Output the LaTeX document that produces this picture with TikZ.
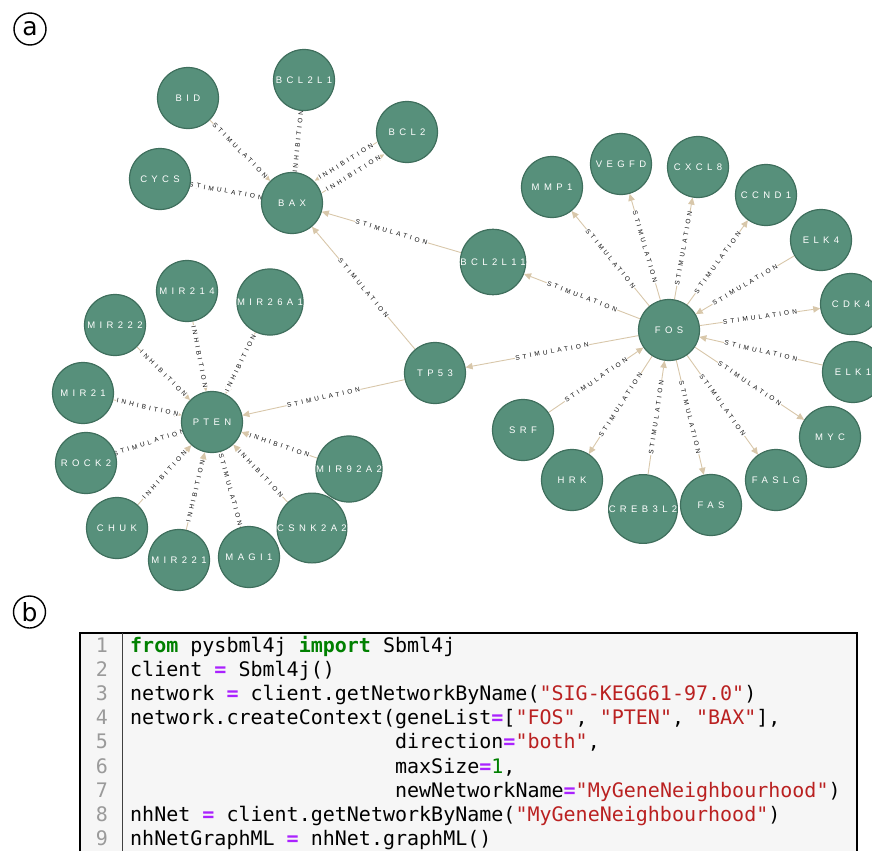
\documentclass[tikz,border=0pt]{standalone}
\usepackage{fontspec}
\setmainfont{Liberation Sans}
\setmonofont{DejaVu Sans Mono}
\newfontfamily\genefont[LetterSpace=46]{Liberation Sans}
\newfontfamily\relfont[LetterSpace=48]{Liberation Sans}
\newfontfamily\panelfont{DejaVu Sans}
\usetikzlibrary{arrows.meta,backgrounds}

\definecolor{genefill}{HTML}{57907B}
\definecolor{geneline}{HTML}{3F6F5D}
\definecolor{relcol}{HTML}{D8C7AA}
\definecolor{labcol}{HTML}{111111}
\definecolor{codebg}{HTML}{F6F6F6}
\definecolor{lnum}{HTML}{9A9A9A}
\definecolor{kwgreen}{HTML}{008000}
\definecolor{oppurple}{HTML}{AA22FF}
\definecolor{strred}{HTML}{BA2121}

\newcommand\ckw[1]{{\bfseries\color{kwgreen}#1}}
\newcommand\cop{{\bfseries\color{oppurple}=}}
\newcommand\cstr[1]{{\color{strred}#1}}
\newcommand\cnum[1]{{\color{kwgreen}#1}}

\tikzset{
  gene/.style={circle, minimum size=61pt, inner sep=0pt, fill=genefill,
    draw=geneline, line width=1.2pt, text=white,
    font=\genefont\fontsize{9.5}{10}\selectfont},
  rel/.style={draw=relcol, line width=0.9pt,
    -{Triangle[length=7pt,width=6.5pt]}},
  lab/.style={midway, sloped, fill=white, inner sep=0.6pt, text=labcol,
    font=\relfont\fontsize{6.5}{7}\selectfont},
  panel/.style={circle, draw, line width=1.4pt, minimum size=32pt,
    inner sep=0pt, font=\panelfont\fontsize{25}{25}\selectfont},
  codeline/.style={anchor=base west, inner sep=0pt,
    font=\ttfamily\fontsize{20}{24}\selectfont},
  linenum/.style={anchor=base east, inner sep=0pt, text=lnum,
    font=\ttfamily\fontsize{20}{24}\selectfont},
}

\begin{document}
\begin{tikzpicture}[x=1pt, y=-1pt]
\useasboundingbox (0,0) rectangle (872,851);

% panel tags
\node[panel] (taga) at (30,29) {a};
\node[panel] (tagb) at (29.5,612) {b};

% ---------- BAX neighbourhood ----------
\node[gene] (bid)    at (188,98)  {BID};
\node[gene] (bcl2l1) at (304,80)  {BCL2L1};
\node[gene] (bcl2)   at (407,132) {BCL2};
\node[gene] (cycs)   at (160,179) {CYCS};
\node[gene] (bax)    at (292,203) {BAX};
\node[gene] (bcl2l11) at (493,262) {BCL2L11};
\node[gene] (tp53)   at (435,373) {TP53};

% ---------- FOS neighbourhood ----------
\node[gene] (fos)    at (669,330) {FOS};
\node[gene] (mmp1)   at (552,187) {MMP1};
\node[gene] (vegfd)  at (621,164) {VEGFD};
\node[gene] (cxcl8)  at (698,167) {CXCL8};
\node[gene] (ccnd1)  at (766,195) {CCND1};
\node[gene] (elk4)   at (821,240) {ELK4};
\node[gene] (cdk4)   at (851,304) {CDK4};
\node[gene] (elk1)   at (853,372) {ELK1};
\node[gene] (myc)    at (830,437) {MYC};
\node[gene] (faslg)  at (776,480) {FASLG};
\node[gene] (fas)    at (711,505) {FAS};
\node[gene] (creb3l2) at (643,509) {CREB3L2};
\node[gene] (hrk)    at (572,480) {HRK};
\node[gene] (srf)    at (523,430) {SRF};

% ---------- PTEN neighbourhood ----------
\node[gene] (pten)    at (212,422) {PTEN};
\node[gene] (mir214)  at (187,291) {MIR214};
\node[gene] (mir26a1) at (270,302) {MIR26A1};
\node[gene] (mir222)  at (115,325) {MIR222};
\node[gene] (mir21)   at (83,393)  {MIR21};
\node[gene] (rock2)   at (86,463)  {ROCK2};
\node[gene] (chuk)    at (117,528) {CHUK};
\node[gene] (mir221)  at (179,560) {MIR221};
\node[gene] (magi1)   at (249,557) {MAGI1};
\node[gene] (csnk2a2) at (312,528) {CSNK2A2};
\node[gene] (mir92a2) at (349,469) {MIR92A2};

% ---------- relations (behind the genes) ----------
\begin{pgfonlayer}{background}
\draw[rel] (bid) -- node[lab]{STIMULATION} (bax);
\draw[rel] (bcl2l1) -- node[lab]{INHIBITION} (bax);
\draw[rel, transform canvas={shift={(-3.7,-6.0)}}] (bcl2) -- node[lab]{INHIBITION} (bax);
\draw[rel, transform canvas={shift={(3.7,6.0)}}] (bax) -- node[lab]{INHIBITION} (bcl2);
\draw[rel] (bax) -- node[lab]{STIMULATION} (cycs);
\draw[rel] (bcl2l11) -- node[lab]{STIMULATION} (bax);
\draw[rel] (tp53) -- node[lab]{STIMULATION} (bax);
\draw[rel] (fos) -- node[lab]{STIMULATION} (bcl2l11);
\draw[rel] (fos) -- node[lab]{STIMULATION} (tp53);
\draw[rel] (tp53) -- node[lab]{STIMULATION} (pten);

\draw[rel] (fos) -- node[lab]{STIMULATION} (mmp1);
\draw[rel] (fos) -- node[lab]{STIMULATION} (vegfd);
\draw[rel] (fos) -- node[lab]{STIMULATION} (cxcl8);
\draw[rel] (fos) -- node[lab]{STIMULATION} (ccnd1);
\draw[rel] (elk4) -- node[lab]{STIMULATION} (fos);
\draw[rel] (fos) -- node[lab]{STIMULATION} (cdk4);
\draw[rel] (elk1) -- node[lab]{STIMULATION} (fos);
\draw[rel] (fos) -- node[lab]{STIMULATION} (myc);
\draw[rel] (fos) -- node[lab]{STIMULATION} (faslg);
\draw[rel] (fos) -- node[lab]{STIMULATION} (fas);
\draw[rel] (creb3l2) -- node[lab]{STIMULATION} (fos);
\draw[rel] (fos) -- node[lab]{STIMULATION} (hrk);
\draw[rel] (srf) -- node[lab]{STIMULATION} (fos);

\draw[rel] (mir222) -- node[lab]{INHIBITION} (pten);
\draw[rel] (mir214) -- node[lab]{INHIBITION} (pten);
\draw[rel] (mir26a1) -- node[lab]{INHIBITION} (pten);
\draw[rel] (mir21) -- node[lab]{INHIBITION} (pten);
\draw[rel] (rock2) -- node[lab]{STIMULATION} (pten);
\draw[rel] (chuk) -- node[lab]{INHIBITION} (pten);
\draw[rel] (mir221) -- node[lab]{INHIBITION} (pten);
\draw[rel] (magi1) -- node[lab]{STIMULATION} (pten);
\draw[rel] (csnk2a2) -- node[lab]{INHIBITION} (pten);
\draw[rel] (mir92a2) -- node[lab]{INHIBITION} (pten);
\end{pgfonlayer}

% ---------- code listing ----------
\fill[codebg] (80,633) rectangle (857,851);
\draw[black, line width=1.2pt] (80,851) -- (80,633) -- (857,633) -- (857,851);
\draw[black!75, line width=0.8pt] (122,633) -- (122,851);

\foreach \i in {1,...,9}{
  \node[linenum] (ln\i) at (108,{652+24.2*(\i-1)}) {\i};
}
\node[codeline] (c1) at (130,652.0) {\ckw{from} pysbml4j \ckw{import} Sbml4j};
\node[codeline] (c2) at (130,676.2) {client \cop{} Sbml4j()};
\node[codeline] (c3) at (130,700.4) {network \cop{} client.getNetworkByName(\cstr{"SIG-KEGG61-97.0"})};
\node[codeline] (c4) at (130,724.6) {network.createContext(geneList\cop{}[\cstr{"FOS"}, \cstr{"PTEN"}, \cstr{"BAX"}],};
\node[codeline] (c5) at (394.9,748.8) {direction\cop{}\cstr{"both"},};
\node[codeline] (c6) at (394.9,773.0) {maxSize\cop{}\cnum{1},};
\node[codeline] (c7) at (394.9,797.2) {newNetworkName\cop{}\cstr{"MyGeneNeighbourhood"})};
\node[codeline] (c8) at (130,821.4) {nhNet \cop{} client.getNetworkByName(\cstr{"MyGeneNeighbourhood"})};
\node[codeline] (c9) at (130,845.6) {nhNetGraphML \cop{} nhNet.graphML()};
\end{tikzpicture}
\end{document}
